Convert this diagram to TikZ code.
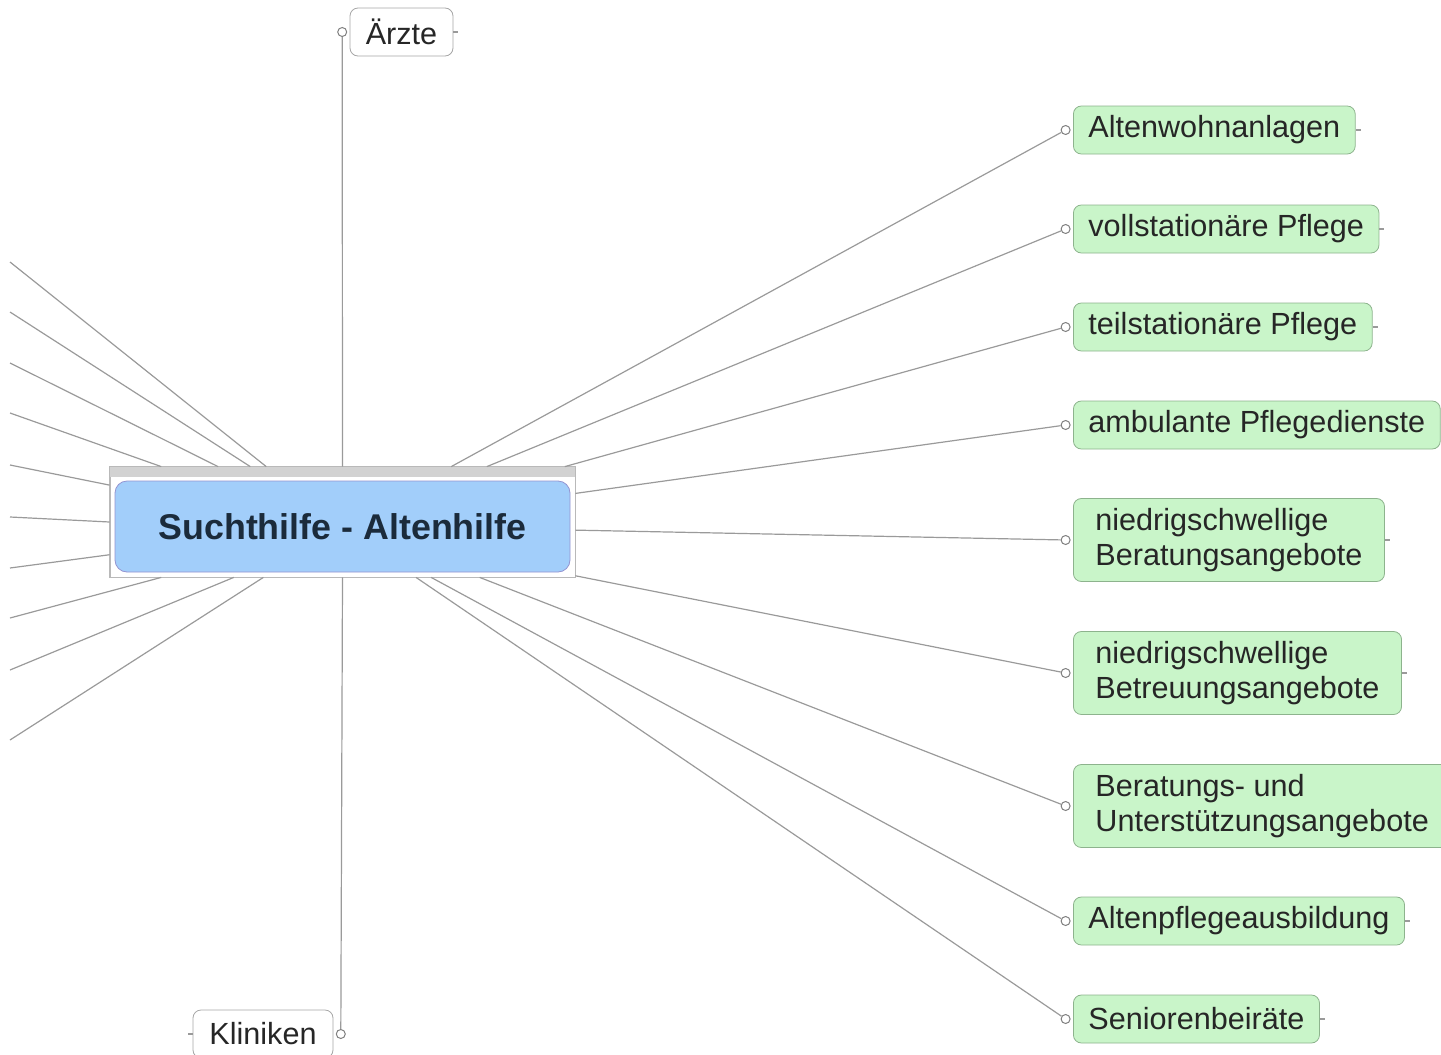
\documentclass[tikz,border=0pt]{standalone}
\usepackage{fontspec}
\setmainfont{Liberation Sans}
\usetikzlibrary{positioning}

\definecolor{leaffill}{HTML}{C9F5C9}
\definecolor{leafline}{HTML}{8DB38D}
\definecolor{hubfill}{HTML}{A2CEFA}
\definecolor{hubtext}{HTML}{1B2B3B}
\definecolor{wire}{HTML}{9A9A9A}

\begin{document}
\begin{tikzpicture}[x=0.5pt, y=-0.5pt,
  wirestyle/.style={wire, line width=0.6pt},
  leafstyle/.style={draw=leafline, fill=leaffill, rounded corners=4pt, anchor=west, minimum height=24pt, inner xsep=7.5pt, text=black!85, font=\fontsize{15.3}{17.5}\selectfont},
  twostyle/.style={leafstyle, minimum height=41.5pt, inner xsep=11pt, align=left},
  plainstyle/.style={draw=gray!70, fill=white, rounded corners=4pt, minimum height=24pt, text=black!85, font=\fontsize{15.3}{17.5}\selectfont},
  knobstyle/.style={circle, draw=gray, fill=white, inner sep=0pt, minimum size=4.5pt, line width=0.5pt},
  hubstyle/.style={draw=gray!60!blue!60, fill=hubfill, rounded corners=6pt, minimum width=227.5pt, minimum height=45.5pt, text=hubtext, font=\bfseries\fontsize{17.9}{20}\selectfont}]

  \useasboundingbox (0,0) rectangle (1441,1055);

  % centre
  \node[draw=gray!55, fill=white, minimum width=232.5pt, minimum height=55pt, inner sep=0pt] (frame) at (342.5,522) {};
  \fill[gray!35] (frame.north west) rectangle ([yshift=-5pt]frame.north east);
  \draw[gray!55] (frame.north west) rectangle (frame.south east);
  \node[hubstyle] (hub) at (342.5,526.5) {Suchthilfe - Altenhilfe};

  % right side
  \foreach \i/\y/\s/\txt/\ang in {1/130/leafstyle/Altenwohnanlagen/27,
                                  2/229/leafstyle/vollstationäre Pflege/21,
                                  3/327/leafstyle/teilstationäre Pflege/14,
                                  4/425/leafstyle/ambulante Pflegedienste/7,
                                  5/540/twostyle/{niedrigschwellige\\Beratungsangebote}/358,
                                  6/673/twostyle/{niedrigschwellige\\Betreuungsangebote}/347,
                                  7/806/twostyle/{Beratungs- und\\Unterstützungsangebote}/338,
                                  8/921/leafstyle/Altenpflegeausbildung/328,
                                  9/1019/leafstyle/Seniorenbeiräte/323} {
    \node[\s] (l\i) at (1073,\y) {\txt};
    \node[knobstyle, left=1.2pt of l\i] (k\i) {};
    \draw[wirestyle] (frame.\ang) -- (k\i);
    \draw[wirestyle] (l\i.east) -- ++(5,0);
  }

  % left side, nodes out of view
  \foreach \ang/\y in {144/262, 149/312, 156/363, 163/413, 171/465,
                       180/517, 188/568, 197/618, 207/670, 215/740} {
    \coordinate (w\y) at (10,\y);
    \draw[wirestyle] (frame.\ang) -- (w\y);
  }

  % top and bottom
  \node[plainstyle, minimum width=51.5pt] (aerzte) at (401.5,32) {Ärzte};
  \node[knobstyle, left=1.2pt of aerzte] (ka) {};
  \draw[wirestyle] (frame.north) -- (ka);
  \draw[wirestyle] (aerzte.east) -- ++(5,0);

  \node[plainstyle, minimum width=70pt] (kliniken) at (263,1034) {Kliniken};
  \node[knobstyle, right=1.2pt of kliniken] (kk) {};
  \draw[wirestyle] (frame.south) -- (kk);
  \draw[wirestyle] (kliniken.west) -- ++(-5,0);

\end{tikzpicture}
\end{document}
